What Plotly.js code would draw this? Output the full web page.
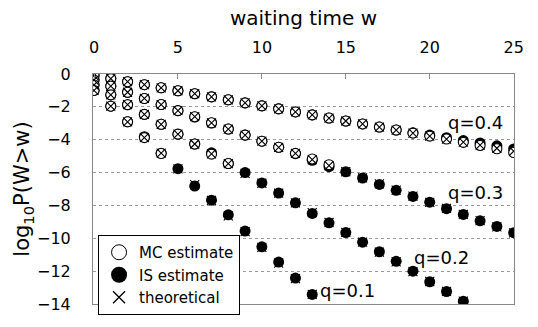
<!DOCTYPE html>
<html>
<head>
<meta charset="utf-8">
<script src="https://cdn.plot.ly/plotly-3.0.1.min.js"></script>
<style>html,body{margin:0;padding:0;background:#fff;}#chart{width:538px;height:327px;}</style>
</head>
<body>
<div id="chart"></div>
<script>
// waiting time w (x values)
const w04 = [0,1,2,3,4,5,6,7,8,9,10,11,12,13,14,15,16,17,18,19,20,21,22,23,24,25];
const w03 = [0,1,2,3,4,5,6,7,8,9,10,11,12,13,14,15,16,17,18,19,20,21,22,23,24,25];
const w02 = [0,1,2,3,4,5,6,7,8,9,10,11,12,13,14,15,16,17,18,19,20,21,22];
const w01 = [0,1,2,3,4,5,6,7,8,9,10,11,12,13];

// theoretical log10 P(W>w)
const th04 = [-0.10,-0.28,-0.47,-0.65,-0.84,-1.02,-1.20,-1.39,-1.57,-1.76,-1.94,-2.12,-2.31,-2.49,-2.68,-2.86,-3.04,-3.23,-3.41,-3.60,-3.78,-3.96,-4.15,-4.33,-4.52,-4.70];
const th03 = [-0.37,-0.74,-1.11,-1.49,-1.86,-2.23,-2.60,-2.97,-3.35,-3.72,-4.09,-4.46,-4.83,-5.21,-5.58,-5.95,-6.32,-6.69,-7.07,-7.44,-7.81,-8.18,-8.55,-8.93,-9.30,-9.67];
const th02 = [-0.67,-1.27,-1.87,-2.46,-3.06,-3.66,-4.26,-4.86,-5.45,-6.05,-6.65,-7.25,-7.85,-8.44,-9.04,-9.64,-10.24,-10.84,-11.43,-12.03,-12.63,-13.23,-13.83];
const th01 = [-1.00,-1.96,-2.91,-3.87,-4.82,-5.78,-6.73,-7.69,-8.64,-9.60,-10.55,-11.51,-12.46,-13.42];

// IS estimates
const is04 = [-0.10,-0.28,-0.47,-0.65,-0.84,-1.02,-1.20,-1.39,-1.57,-1.76,-1.94,-2.12,-2.31,-2.49,-2.68,-2.86,-3.04,-3.23,-3.41,-3.58,-3.72,-3.88,-4.05,-4.20,-4.37,-4.56];
const is03 = [-0.37,-0.74,-1.11,-1.49,-1.86,-2.23,-2.62,-2.99,-3.35,-3.72,-4.09,-4.46,-4.85,-5.25,-5.64,-5.95,-6.33,-6.72,-7.08,-7.45,-7.80,-8.20,-8.55,-8.94,-9.28,-9.66];
const is02 = [-0.67,-1.27,-1.87,-2.46,-3.06,-3.66,-4.26,-4.80,-5.45,-6.00,-6.63,-7.25,-7.84,-8.49,-9.06,-9.65,-10.24,-10.82,-11.40,-12.00,-12.65,-13.24,-13.83];
const is01 = [-1.00,-1.96,-2.91,-3.82,-4.82,-5.76,-6.82,-7.68,-8.57,-9.56,-10.52,-11.45,-12.42,-13.42];

// MC estimates (only where the probability is large enough)
const mcW04 = [0,1,2,3,4,5,6,7,8,9,10,11,12,13,14,15,16,17,18,19,20,21,22,23,24,25];
const mc04 = [-0.10,-0.28,-0.47,-0.65,-0.84,-1.02,-1.20,-1.39,-1.57,-1.76,-1.94,-2.12,-2.31,-2.49,-2.68,-2.86,-3.04,-3.23,-3.41,-3.60,-3.78,-3.96,-4.16,-4.35,-4.55,-4.78];
const mcW03 = [0,1,2,3,4,5,6,7,8,9,10,11,12,13,14];
const mc03 = [-0.37,-0.74,-1.11,-1.49,-1.86,-2.23,-2.60,-2.97,-3.35,-3.72,-4.09,-4.46,-4.83,-5.17,-5.52];
const mcW02 = [0,1,2,3,4,5,6,7,8];
const mc02 = [-0.67,-1.27,-1.87,-2.46,-3.06,-3.66,-4.26,-4.88,-5.45];
const mcW01 = [0,1,2,3,4];
const mc01 = [-1.00,-1.96,-2.91,-3.87,-4.84];

// curve labels
const labelText = ['q=0.4','q=0.3','q=0.2','q=0.1'];
const labelW = [22.7, 22.7, 20.7, 15.1];
const labelV = [-2.95, -7.2, -11.15, -13.15];

const F = 'DejaVu Sans, Arial, sans-serif';
const cat = (...a) => [].concat(...a);

const traces = [
  { type:'scatter', mode:'markers', name:'IS estimate', showlegend:false,
    x: cat(w04,w03,w02,w01), y: cat(is04,is03,is02,is01),
    marker:{symbol:'circle', size:11, color:'#000', line:{width:0}} },
  { type:'scatter', mode:'markers', name:'MC estimate', showlegend:false,
    x: cat(mcW04,mcW03,mcW02,mcW01), y: cat(mc04,mc03,mc02,mc01),
    marker:{symbol:'circle', size:10, color:'#fff', line:{width:1.1, color:'#000'}} },
  { type:'scatter', mode:'markers', name:'theoretical', showlegend:false,
    x: cat(w04,w03,w02,w01), y: cat(th04,th03,th02,th01),
    marker:{symbol:'x-thin-open', size:9, color:'#000', line:{width:1.1, color:'#000'}} },
  // legend entries
  { type:'scatter', mode:'markers', name:'MC estimate', x:[null], y:[null],
    marker:{symbol:'circle', size:15, color:'#fff', line:{width:1, color:'#000'}} },
  { type:'scatter', mode:'markers', name:'IS estimate', x:[null], y:[null],
    marker:{symbol:'circle', size:16, color:'#000', line:{width:0}} },
  { type:'scatter', mode:'markers', name:'theoretical', x:[null], y:[null],
    marker:{symbol:'x-thin-open', size:12, color:'#000', line:{width:1.3, color:'#000'}} }
];

const layout = {
  width:538, height:327,
  margin:{l:93, r:24, t:74, b:14},
  paper_bgcolor:'#fff', plot_bgcolor:'#fff',
  font:{family:F, color:'#000'},
  showlegend:true,
  legend:{x:0.012, y:0.30, xanchor:'left', yanchor:'top',
    bgcolor:'#fff', bordercolor:'#000', borderwidth:1,
    font:{family:F, size:15, color:'#000'}, traceorder:'normal', itemwidth:30},
  xaxis:{side:'top', range:[-0.06, 25.02], tick0:0, dtick:5,
    ticks:'inside', ticklen:5, tickcolor:'#888', tickwidth:1,
    showgrid:false, zeroline:false, showline:true, mirror:true, linecolor:'#888', linewidth:1,
    tickfont:{family:F, size:16, color:'#000'}, ticklabelstandoff:14,
    title:{text:'waiting time w', font:{family:F, size:20, color:'#000'}, standoff:6}},
  yaxis:{range:[-14, 0], tick0:0, dtick:2,
    ticks:'', showgrid:true, gridcolor:'#999', griddash:'dot', gridwidth:1,
    zeroline:false, showline:true, mirror:true, linecolor:'#888', linewidth:1,
    tickfont:{family:F, size:16, color:'#000'}, ticklabelstandoff:18,
    title:{text:'log<sub>10</sub>P(W>w)', font:{family:F, size:21, color:'#000'}, standoff:1}},
  annotations: labelText.map((t,i)=>({x:labelW[i], y:labelV[i], xref:'x', yref:'y', text:t,
    showarrow:false, font:{family:F, size:18, color:'#000'}, xanchor:'center', yanchor:'middle'}))
};

Plotly.newPlot('chart', traces, layout, {displayModeBar:false, staticPlot:true});
</script>
</body>
</html>
